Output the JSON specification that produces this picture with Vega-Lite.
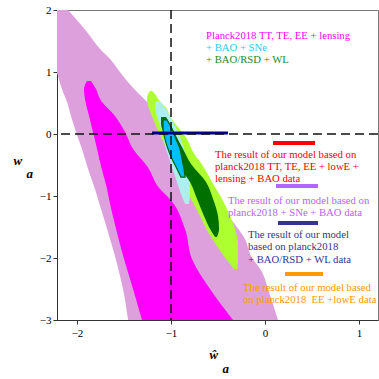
{
  "$schema": "https://vega.github.io/schema/vega-lite/v6.json",
  "width": 321,
  "height": 310,
  "autosize": {"type": "none"},
  "padding": {"left": 57, "top": 10, "right": 1, "bottom": 59},
  "background": "white",
  "config": {
    "view": {"stroke": "#777777", "strokeWidth": 1},
    "axis": {
      "grid": false,
      "labelFont": "Liberation Serif",
      "labelFontSize": 11,
      "labelColor": "black",
      "tickColor": "#333333",
      "domainColor": "#333333",
      "tickSize": 4,
      "titleFont": "Liberation Serif",
      "titleFontStyle": "italic",
      "titleFontWeight": "bold",
      "titleFontSize": 13,
      "titleColor": "black"
    }
  },
  "datasets": {
    "plum": [
      {"y": 2.0, "x": -2.213, "x2": -2.096},
      {"y": 1.855, "x": -2.213, "x2": -2.011},
      {"y": 1.645, "x": -2.213, "x2": -1.894},
      {"y": 1.371, "x": -2.213, "x2": -1.755},
      {"y": 1.21, "x": -2.213, "x2": -1.649},
      {"y": 1.0, "x": -2.213, "x2": -1.543},
      {"y": 0.935, "x": -2.202, "x2": -1.511},
      {"y": 0.677, "x": -2.149, "x2": -1.362},
      {"y": 0.516, "x": -2.106, "x2": -1.255},
      {"y": 0.29, "x": -2.064, "x2": -1.149},
      {"y": 0.032, "x": -2.011, "x2": -1.021},
      {"y": -0.242, "x": -1.947, "x2": -0.894},
      {"y": -0.565, "x": -1.883, "x2": -0.745},
      {"y": -0.887, "x": -1.809, "x2": -0.596},
      {"y": -1.161, "x": -1.755, "x2": -0.468},
      {"y": -1.419, "x": -1.702, "x2": -0.34},
      {"y": -1.694, "x": -1.649, "x2": -0.213},
      {"y": -1.968, "x": -1.596, "x2": -0.149},
      {"y": -2.226, "x": -1.553, "x2": -0.032},
      {"y": -2.5, "x": -1.511, "x2": 0.032},
      {"y": -3.0, "x": -1.457, "x2": 0.138}
    ],
    "magenta": [
      {"y": 0.855, "x": -1.894, "x2": -1.851},
      {"y": 0.726, "x": -1.926, "x2": -1.798},
      {"y": 0.565, "x": -1.915, "x2": -1.755},
      {"y": 0.29, "x": -1.872, "x2": -1.596},
      {"y": 0.032, "x": -1.83, "x2": -1.489},
      {"y": -0.242, "x": -1.787, "x2": -1.404},
      {"y": -0.516, "x": -1.745, "x2": -1.255},
      {"y": -0.887, "x": -1.681, "x2": -1.117},
      {"y": -1.048, "x": -1.66, "x2": -1.011},
      {"y": -1.532, "x": -1.585, "x2": -0.851},
      {"y": -2.016, "x": -1.5, "x2": -0.777},
      {"y": -2.5, "x": -1.404, "x2": -0.585},
      {"y": -3.0, "x": -1.309, "x2": -0.34}
    ],
    "lightgreen": [
      {"y": 0.694, "x": -1.223, "x2": -1.202},
      {"y": 0.645, "x": -1.245, "x2": -1.17},
      {"y": 0.565, "x": -1.255, "x2": -1.138},
      {"y": 0.403, "x": -1.234, "x2": -1.043},
      {"y": 0.29, "x": -1.202, "x2": -1.011},
      {"y": 0.129, "x": -1.16, "x2": -0.936},
      {"y": -0.081, "x": -1.096, "x2": -0.83},
      {"y": -0.29, "x": -1.032, "x2": -0.766},
      {"y": -0.516, "x": -0.957, "x2": -0.66},
      {"y": -0.774, "x": -0.872, "x2": -0.564},
      {"y": -1.048, "x": -0.787, "x2": -0.457},
      {"y": -1.323, "x": -0.691, "x2": -0.372},
      {"y": -1.581, "x": -0.606, "x2": -0.309},
      {"y": -1.806, "x": -0.511, "x2": -0.287},
      {"y": -2.016, "x": -0.415, "x2": -0.287},
      {"y": -2.177, "x": -0.33, "x2": -0.298}
    ],
    "lightcyan": [
      {"y": 0.532, "x": -1.17, "x2": -1.117},
      {"y": 0.452, "x": -1.17, "x2": -1.074},
      {"y": 0.29, "x": -1.149, "x2": -1.011},
      {"y": 0.194, "x": -1.128, "x2": -0.979},
      {"y": 0.032, "x": -1.096, "x2": -0.926},
      {"y": -0.242, "x": -1.053, "x2": -0.862},
      {"y": -0.484, "x": -1.0, "x2": -0.819},
      {"y": -0.726, "x": -0.947, "x2": -0.798},
      {"y": -0.968, "x": -0.894, "x2": -0.798},
      {"y": -1.129, "x": -0.851, "x2": -0.809}
    ],
    "darkgreen": [
      {"y": 0.274, "x": -1.106, "x2": -1.053},
      {"y": 0.161, "x": -1.106, "x2": -1.011},
      {"y": 0.0, "x": -1.074, "x2": -0.957},
      {"y": -0.242, "x": -1.011, "x2": -0.872},
      {"y": -0.484, "x": -0.936, "x2": -0.787},
      {"y": -0.774, "x": -0.798, "x2": -0.628},
      {"y": -1.048, "x": -0.723, "x2": -0.553},
      {"y": -1.323, "x": -0.649, "x2": -0.5},
      {"y": -1.532, "x": -0.585, "x2": -0.489},
      {"y": -1.661, "x": -0.532, "x2": -0.511}
    ],
    "cyan": [
      {"y": 0.226, "x": -1.085, "x2": -1.043},
      {"y": 0.081, "x": -1.085, "x2": -0.989},
      {"y": -0.081, "x": -1.064, "x2": -0.947},
      {"y": -0.242, "x": -1.032, "x2": -0.904},
      {"y": -0.403, "x": -0.989, "x2": -0.883},
      {"y": -0.565, "x": -0.936, "x2": -0.862},
      {"y": -0.694, "x": -0.894, "x2": -0.851}
    ],
    "bars": [
      {"grp": "red", "x": 0.085, "x2": 0.532, "y": -0.145},
      {"grp": "purple", "x": 0.117, "x2": 0.564, "y": -0.839},
      {"grp": "navy", "x": 0.138, "x2": 0.564, "y": -1.435},
      {"grp": "orange", "x": 0.213, "x2": 0.617, "y": -2.258}
    ],
    "labels": [
      {"grp": "magenta", "x": -0.628, "y": 1.581, "text": "Planck2018 TT, TE, EE + lensing"},
      {"grp": "cyan", "x": -0.628, "y": 1.387, "text": "+ BAO + SNe"},
      {"grp": "green", "x": -0.628, "y": 1.194, "text": "+ BAO/RSD + WL"},
      {"grp": "red", "x": -0.532, "y": -0.339, "text": "The result of our model based on"},
      {"grp": "red", "x": -0.532, "y": -0.532, "text": "planck2018 TT, TE, EE + lowE +"},
      {"grp": "red", "x": -0.532, "y": -0.726, "text": "lensing + BAO data"},
      {"grp": "purple", "x": -0.394, "y": -1.081, "text": "The result of our model based on"},
      {"grp": "purple", "x": -0.394, "y": -1.274, "text": "planck2018 + SNe + BAO data"},
      {"grp": "navy", "x": -0.181, "y": -1.629, "text": "The result of our model"},
      {"grp": "navy", "x": -0.181, "y": -1.823, "text": "based on planck2018"},
      {"grp": "navy", "x": -0.181, "y": -2.032, "text": "+ BAO/RSD + WL data"},
      {"grp": "orange", "x": -0.234, "y": -2.484, "text": "The result of our model based"},
      {"grp": "orange", "x": -0.234, "y": -2.677, "text": "on planck2018 \u00a0EE +lowE data"}
    ]
  },
  "layer": [
    {
      "data": {"name": "plum"},
      "mark": {"type": "area", "orient": "horizontal", "color": "#DDA0DD", "interpolate": "monotone", "clip": true},
      "encoding": {
        "y": {"field": "y", "type": "quantitative", "scale": {"domain": [-3, 2], "nice": false, "zero": false},
          "axis": {"values": [-3, -2, -1, 0, 1, 2], "format": "d", "labelFont": "Liberation Serif", "labelFontSize": 11, "title": ["w", "\u200b\u00a0\u00a0\u00a0\u00a0a"], "titleAngle": 0, "titleAlign": "left", "titleBaseline": "alphabetic", "titleX": -44, "titleY": 154, "titleLineHeight": 13, "labelPadding": 2}},
        "x": {"field": "x", "type": "quantitative", "scale": {"domain": [-2.213, 1.202], "nice": false, "zero": false},
          "axis": {"values": [-2, -1, 0, 1], "format": "d", "labelFont": "Liberation Serif", "labelFontSize": 11, "title": ["\u0175", "\u200b\u00a0\u00a0\u00a0\u00a0a"], "titleAngle": 0, "titleAlign": "left", "titleBaseline": "alphabetic", "titleX": 152, "titleY": 38, "titleLineHeight": 14, "labelPadding": 3}},
        "x2": {"field": "x2"}
      }
    },
    {
      "data": {"name": "magenta"},
      "mark": {"type": "area", "orient": "horizontal", "color": "#FF00FF", "interpolate": "monotone", "clip": true},
      "encoding": {"y": {"field": "y", "type": "quantitative"}, "x": {"field": "x", "type": "quantitative"}, "x2": {"field": "x2"}}
    },
    {
      "data": {"name": "lightgreen"},
      "mark": {"type": "area", "orient": "horizontal", "color": "#ADFF2F", "interpolate": "monotone", "clip": true},
      "encoding": {"y": {"field": "y", "type": "quantitative"}, "x": {"field": "x", "type": "quantitative"}, "x2": {"field": "x2"}}
    },
    {
      "data": {"name": "lightcyan"},
      "mark": {"type": "area", "orient": "horizontal", "color": "#AFEEEE", "interpolate": "monotone", "clip": true},
      "encoding": {"y": {"field": "y", "type": "quantitative"}, "x": {"field": "x", "type": "quantitative"}, "x2": {"field": "x2"}}
    },
    {
      "data": {"name": "darkgreen"},
      "mark": {"type": "area", "orient": "horizontal", "color": "#007000", "interpolate": "monotone", "clip": true},
      "encoding": {"y": {"field": "y", "type": "quantitative"}, "x": {"field": "x", "type": "quantitative"}, "x2": {"field": "x2"}}
    },
    {
      "data": {"name": "cyan"},
      "mark": {"type": "area", "orient": "horizontal", "fill": "#00BFFF", "stroke": "#006400", "strokeWidth": 1.2, "interpolate": "monotone", "clip": true},
      "encoding": {"y": {"field": "y", "type": "quantitative"}, "x": {"field": "x", "type": "quantitative"}, "x2": {"field": "x2"}}
    },
    {
      "data": {"values": [{"x": -1.202, "x2": -0.394, "y": 0.016}]},
      "mark": {"type": "rule", "color": "#000080", "strokeWidth": 3},
      "encoding": {"x": {"field": "x", "type": "quantitative"}, "x2": {"field": "x2"}, "y": {"field": "y", "type": "quantitative"}}
    },
    {
      "data": {"values": [{"x": -1}]},
      "mark": {"type": "rule", "color": "#111111", "strokeWidth": 1.5, "strokeDash": [9, 5]},
      "encoding": {"x": {"field": "x", "type": "quantitative"}}
    },
    {
      "data": {"values": [{"y": 0}]},
      "mark": {"type": "rule", "color": "#111111", "strokeWidth": 1.5, "strokeDash": [9, 5]},
      "encoding": {"y": {"field": "y", "type": "quantitative"}}
    },
    {
      "data": {"name": "bars"},
      "mark": {"type": "rule", "strokeWidth": 4},
      "encoding": {
        "x": {"field": "x", "type": "quantitative"}, "x2": {"field": "x2"}, "y": {"field": "y", "type": "quantitative"},
        "color": {"field": "grp", "type": "nominal", "legend": null,
          "scale": {"domain": ["magenta", "cyan", "green", "red", "purple", "navy", "orange"], "range": ["#FF00FF", "#33C8F5", "#1E8C1E", "#FF0000", "#B266FF", "#333399", "#FF9900"]}}
      }
    },
    {
      "data": {"name": "labels"},
      "mark": {"type": "text", "align": "left", "baseline": "middle", "font": "Liberation Serif", "fontSize": 10.7},
      "encoding": {
        "x": {"field": "x", "type": "quantitative"}, "y": {"field": "y", "type": "quantitative"},
        "text": {"field": "text"},
        "color": {"field": "grp", "type": "nominal", "legend": null}
      }
    }
  ]
}
